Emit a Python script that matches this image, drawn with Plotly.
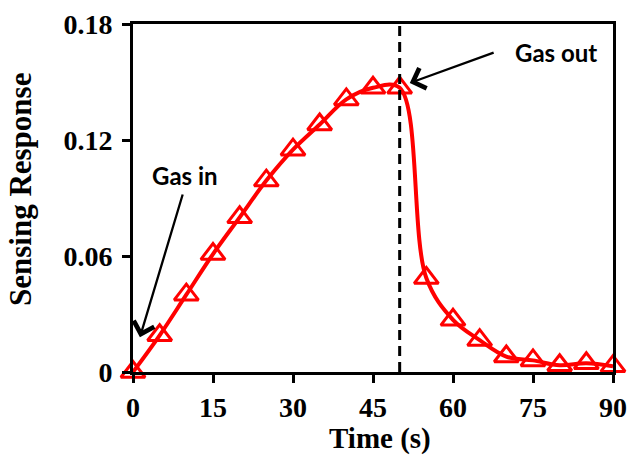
import plotly.graph_objects as go

time_s = [0, 5, 10, 15, 20, 25, 30, 35, 40, 45, 50, 55, 60, 65, 70, 75, 80, 85, 90]
response = [0.0, 0.019, 0.040, 0.061, 0.080, 0.099, 0.115, 0.128, 0.141, 0.147, 0.147,
            0.0486, 0.027, 0.0165, 0.008, 0.006, 0.0035, 0.0045, 0.003]
x_ticks = [0, 15, 30, 45, 60, 75, 90]
y_ticks = [0, 0.06, 0.12, 0.18]
y_tick_text = ["0", "0.06", "0.12", "0.18"]
gas_out_time = 50
x_title = "Time (s)"
y_title = "Sensing Response"

serif = "Liberation Serif"
sans = "Lato"

fig = go.Figure()
fig.add_trace(go.Scatter(
    x=time_s, y=response, mode="lines+markers",
    line=dict(color="#FF0000", width=4, shape="spline", smoothing=1.0),
    marker=dict(symbol="triangle-up-open", size=21, color="#FF0000",
                line=dict(color="#FF0000", width=3)),
    cliponaxis=False, showlegend=False,
))

fig.add_shape(type="line", x0=gas_out_time, x1=gas_out_time, y0=0, y1=0.18,
              xref="x", yref="y", line=dict(color="black", width=3, dash="10px,6px"))

# arrows
fig.add_annotation(x=1.3, y=0.018, ax=9.4, ay=0.0926, axref="x", ayref="y",
                   text="", showarrow=True, arrowhead=4, arrowsize=1.8,
                   arrowwidth=2.3, arrowcolor="black", standoff=0, startstandoff=0)
fig.add_annotation(x=51.9, y=0.1495, ax=67.9, ay=0.1655, axref="x", ayref="y",
                   text="", showarrow=True, arrowhead=4, arrowsize=1.8,
                   arrowwidth=2.3, arrowcolor="black", standoff=0, startstandoff=0)
fig.add_annotation(x=9.75, y=0.1014, text="Gas in", showarrow=False,
                   font=dict(family=sans, size=24, color="black", weight="bold"))
fig.add_annotation(x=79.3, y=0.1655, text="Gas out", showarrow=False,
                   font=dict(family=sans, size=24, color="black", weight="bold"))

# axis titles
fig.add_annotation(xref="paper", yref="paper", x=0.5, y=0, xshift=7, yshift=-66,
                   yanchor="middle", borderpad=0, text=x_title, showarrow=False,
                   font=dict(family=serif, size=29, color="black", weight="bold"))
fig.add_annotation(xref="paper", yref="paper", x=0, y=0.5, xshift=-113, yshift=8,
                   xanchor="center", textangle=-90, text=y_title, showarrow=False,
                   font=dict(family=serif, size=31, color="black", weight="bold"))

axis_common = dict(
    showline=True, linecolor="black", linewidth=3, mirror=True,
    showgrid=False, zeroline=False, ticks="outside", ticklen=8, tickwidth=3,
    tickcolor="black", automargin=False,
    tickfont=dict(family=serif, size=28, color="black", weight="bold"),
)

fig.update_xaxes(range=[0, 90], tickvals=x_ticks, ticklabelstandoff=0, **axis_common)
fig.update_yaxes(range=[0, 0.18], tickvals=y_ticks, ticktext=y_tick_text,
                 ticklabelstandoff=4, **axis_common)

fig.update_layout(
    width=628, height=456,
    margin=dict(l=133, r=15, t=24, b=84),
    plot_bgcolor="white", paper_bgcolor="white",
)

fig.write_html("out.html")
